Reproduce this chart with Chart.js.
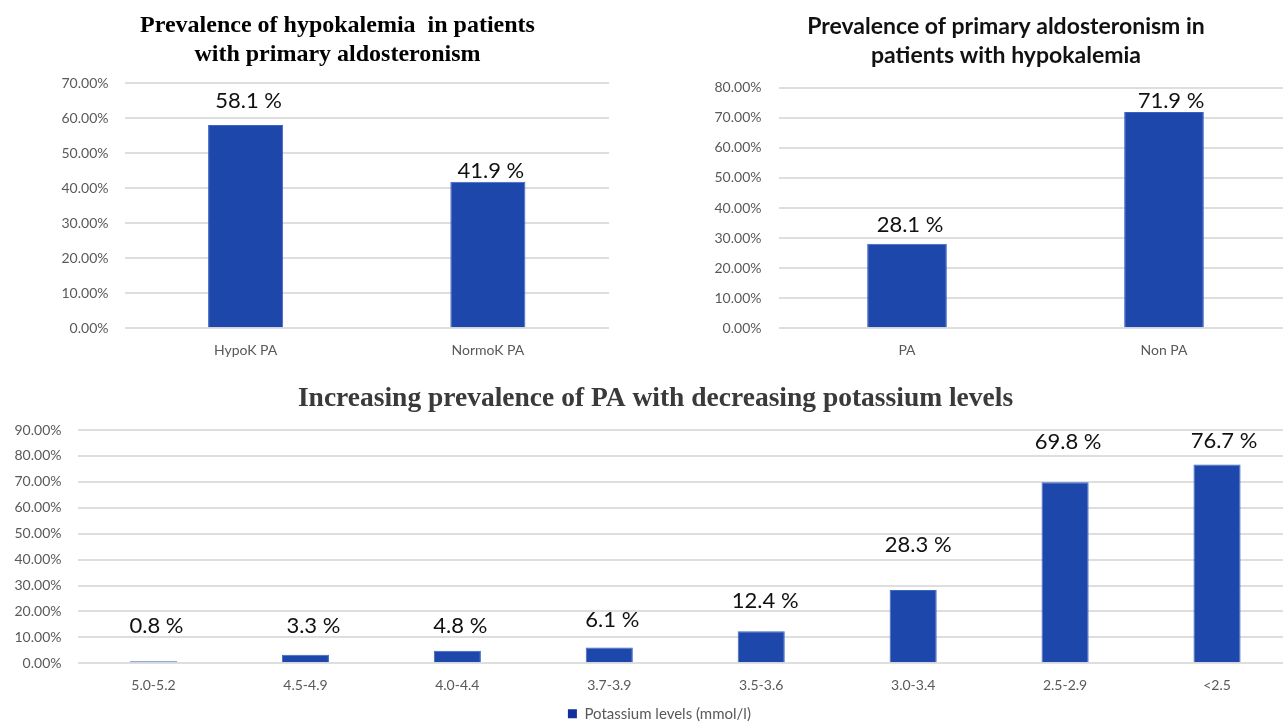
<!DOCTYPE html>
<html>
<head>
<meta charset="utf-8">
<script src="https://cdn.jsdelivr.net/npm/chart.js@4/dist/chart.umd.min.js"></script>
<style>
  html, body { margin: 0; padding: 0; background: #fff; overflow: hidden; width: 1283px; height: 723px; }
  canvas { position: absolute; }
</style>
</head>
<body>
<canvas id="hypoInPA" width="640" height="372" style="left:0;top:0"></canvas>
<canvas id="paInHypo" width="640" height="372" style="left:660px;top:0"></canvas>
<canvas id="byPotassium" width="1310" height="362" style="left:0;top:370px"></canvas>
<script>
// Prevalence of hypokalemia among patients with primary aldosteronism (%)
const hypoCategories = ['HypoK PA', 'NormoK PA'];
const hypoValues = [58.1, 41.9];

// Prevalence of primary aldosteronism among patients with hypokalemia (%)
const paCategories = ['PA', 'Non PA'];
const paValues = [28.1, 71.9];

// Prevalence of PA by serum potassium band (mmol/l)
const potassiumBands = ['5.0-5.2', '4.5-4.9', '4.0-4.4', '3.7-3.9', '3.5-3.6', '3.0-3.4', '2.5-2.9', '<2.5'];
const potassiumValues = [0.8, 3.3, 4.8, 6.1, 12.4, 28.3, 69.8, 76.7];

// value-label placement above each bar (pixels)
const hypoLabelLift = [24, 11];
const hypoLabelShift = [3, 3];
const paLabelLift = [18.5, 11];
const paLabelShift = [3, 7];
const potassiumLabelLift = [35.5, 28.4, 24.6, 27.2, 30.2, 44.6, 40.4, 23.5];
const potassiumLabelShift = [3, 8, 3, 3, 4, 5, 3, 7];

const BAR_FILL = '#1e47ab';
const BAR_EDGE = '#3a63c4';
const GRID = '#dedede';
const TICK = '#595959';
const SANS = 'Lato, "Open Sans", sans-serif';
const SERIF = '"Liberation Serif", "DejaVu Serif", serif';

// writes "xx.x %" above every bar
const barValues = {
  id: 'barValues',
  afterDatasetsDraw(chart, args, opts) {
    const ctx = chart.ctx;
    const meta = chart.getDatasetMeta(0);
    const data = chart.data.datasets[0].data;
    ctx.save();
    ctx.font = '22px ' + SANS;
    ctx.fillStyle = '#111';
    ctx.textAlign = 'center';
    ctx.textBaseline = 'middle';
    meta.data.forEach((bar, i) => {
      const lift = opts.lift ? opts.lift[i] : 14;
      const shift = opts.shift ? opts.shift[i] : 0;
      ctx.fillText(data[i].toFixed(1) + ' %', bar.x + shift, bar.y - lift);
    });
    ctx.restore();
  }
};

// moves the title / legend blocks sideways after layout
const boxNudge = {
  id: 'boxNudge',
  afterLayout(chart, args, opts) {
    const move = (box, dx) => {
      if (!box || !dx) return;
      box.left += dx;
      box.right += dx;
    };
    move(chart.titleBlock, opts.title);
    move(chart.legend, opts.legend);
  }
};
Chart.register(barValues, boxNudge);

function pctTick(v) { return Number(v).toFixed(2) + '%'; }

function makeChart(id, cfg) {
  return new Chart(document.getElementById(id), {
    type: 'bar',
    data: {
      labels: cfg.labels,
      datasets: [{
        label: cfg.seriesName,
        data: cfg.values,
        backgroundColor: BAR_FILL,
        borderColor: BAR_EDGE,
        borderWidth: { top: 1, left: 1, right: 1, bottom: 0 },
        barPercentage: 0.31,
        categoryPercentage: 1
      }]
    },
    options: {
      responsive: false,
      animation: false,
      devicePixelRatio: 1,
      layout: { padding: cfg.padding },
      plugins: {
        legend: cfg.legend || { display: false },
        tooltip: { enabled: false },
        title: {
          display: true,
          text: cfg.title,
          color: cfg.titleColor,
          font: cfg.titleFont,
          padding: cfg.titlePadding
        },
        barValues: { lift: cfg.lift, shift: cfg.shift },
        boxNudge: cfg.nudge
      },
      scales: {
        x: {
          grid: { display: false, drawTicks: false },
          border: { display: false },
          ticks: { color: TICK, font: { family: SANS, size: 14 }, padding: 13.3, maxRotation: 0 },
          afterFit(scale) { scale.height = cfg.xAxisHeight; }
        },
        y: {
          min: 0,
          max: cfg.yMax,
          grid: { color: GRID, lineWidth: 2, drawTicks: false },
          border: { display: false },
          ticks: { stepSize: 10, color: TICK, font: { family: SANS, size: 14 }, padding: cfg.yTickPad, callback: pctTick },
          afterFit(scale) { scale.width = cfg.yAxisWidth; }
        }
      }
    }
  });
}

makeChart('hypoInPA', {
  labels: hypoCategories,
  values: hypoValues,
  seriesName: 'Prevalence',
  title: ['Prevalence of hypokalemia  in patients', 'with primary aldosteronism'],
  titleColor: '#000',
  titleFont: { family: SERIF, weight: 'bold', size: 24, lineHeight: '29px' },
  titlePadding: { top: 11.5, bottom: 13.8 },
  padding: { left: 56, right: 31, top: 0, bottom: 0 },
  nudge: { title: 5 },
  yMax: 70,
  yAxisWidth: 68.5,
  yTickPad: 16,
  xAxisHeight: 43.7,
  lift: hypoLabelLift,
  shift: hypoLabelShift
});

makeChart('paInHypo', {
  labels: paCategories,
  values: paValues,
  seriesName: 'Prevalence',
  title: ['Prevalence of primary aldosteronism in', 'patients with hypokalemia'],
  titleColor: '#111',
  titleFont: { family: SANS, weight: 'bold', size: 23, lineHeight: '28.5px' },
  titlePadding: { top: 12.75, bottom: 17.95 },
  padding: { left: 50, right: 7.5, top: 0, bottom: 0 },
  nudge: { title: 4.75 },
  yMax: 80,
  yAxisWidth: 68.5,
  yTickPad: 17,
  xAxisHeight: 43.7,
  lift: paLabelLift,
  shift: paLabelShift
});

makeChart('byPotassium', {
  labels: potassiumBands,
  values: potassiumValues,
  seriesName: 'Potassium levels (mmol/l)',
  title: 'Increasing prevalence of PA with decreasing potassium levels',
  titleColor: '#3a3a3a',
  titleFont: { family: SERIF, weight: 'bold', size: 27.5, lineHeight: '30px' },
  titlePadding: { top: 13.5, bottom: 16.5 },
  padding: { left: 8, right: 17, top: 0, bottom: 0.8 },
  nudge: { title: 5, legend: 8.9 },
  yMax: 90,
  yAxisWidth: 69.5,
  yTickPad: 16,
  xAxisHeight: 30,
  lift: potassiumLabelLift,
  shift: potassiumLabelShift,
  legend: {
    display: true,
    position: 'bottom',
    labels: {
      boxWidth: 9,
      boxHeight: 9,
      padding: 12.9,
      color: TICK,
      font: { family: SANS, size: 15 },
      generateLabels(chart) {
        return Chart.defaults.plugins.legend.labels.generateLabels(chart)
          .map(item => Object.assign(item, { fillStyle: '#11309c', strokeStyle: '#11309c', lineWidth: 0 }));
      }
    }
  }
});
</script>
</body>
</html>
